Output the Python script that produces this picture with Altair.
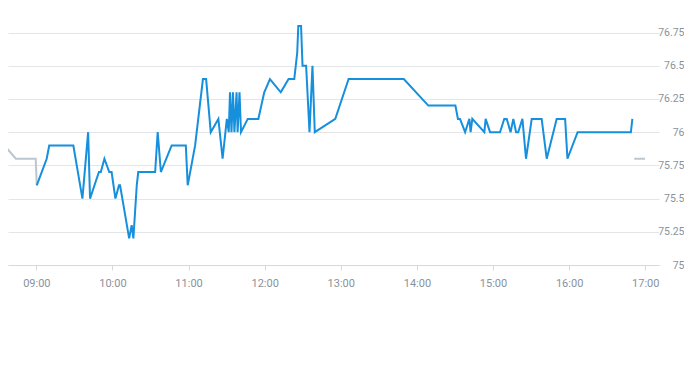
import altair as alt
import pandas as pd

DAY = "2024-01-02T"

pre_times = ["08:30:00", "08:34:50", "08:43:50", "08:59:30", "09:00:20"]
pre_values = [75.5, 75.9, 75.8, 75.8, 75.6]

main_times = [
    "09:00:20", "09:08:10", "09:10:10", "09:29:10", "09:36:20", "09:40:50", "09:42:20",
    "09:49:20", "09:50:50", "09:53:40", "09:57:30", "09:59:20", "10:02:20", "10:05:10",
    "10:06:00", "10:13:10", "10:15:10", "10:16:30", "10:19:10", "10:20:20", "10:33:40",
    "10:35:40", "10:38:10", "10:46:40", "10:57:50", "10:59:20", "11:05:10", "11:11:20",
    "11:13:50", "11:17:30", "11:23:30", "11:26:50", "11:30:10", "11:31:40", "11:32:40",
    "11:33:50", "11:35:00", "11:36:10", "11:37:50", "11:38:40", "11:40:10", "11:41:20",
    "11:46:40", "11:55:00", "11:59:40", "12:04:10", "12:12:40", "12:18:50", "12:23:20",
    "12:25:40", "12:26:30", "12:28:40", "12:29:50", "12:32:40", "12:35:20", "12:37:40",
    "12:39:30", "12:55:40", "13:06:10", "13:49:40", "14:09:00", "14:30:20", "14:32:20",
    "14:34:00", "14:38:00", "14:41:20", "14:42:20", "14:43:40", "14:53:10", "14:54:10",
    "14:57:40", "15:05:30", "15:08:50", "15:10:50", "15:13:50", "15:16:00", "15:18:10",
    "15:19:50", "15:23:10", "15:26:00", "15:30:30", "15:38:20", "15:42:20", "15:50:10",
    "15:56:50", "15:58:40", "16:06:40", "16:48:40", "16:49:50",
]
main_values = [
    75.6, 75.8, 75.9, 75.9, 75.5, 76.0, 75.5,
    75.7, 75.7, 75.8, 75.7, 75.7, 75.5, 75.6,
    75.6, 75.2, 75.3, 75.2, 75.6, 75.7, 75.7,
    76.0, 75.7, 75.9, 75.9, 75.6, 75.9, 76.4,
    76.4, 76.0, 76.1, 75.8, 76.1, 76.0, 76.3,
    76.0, 76.3, 76.0, 76.3, 76.0, 76.3, 76.0,
    76.1, 76.1, 76.3, 76.4, 76.3, 76.4, 76.4,
    76.6, 76.8, 76.8, 76.5, 76.5, 76.0, 76.5,
    76.0, 76.1, 76.4, 76.4, 76.2, 76.2, 76.1,
    76.1, 76.0, 76.1, 76.0, 76.1, 76.0, 76.1,
    76.0, 76.0, 76.1, 76.1, 76.0, 76.1, 76.0,
    76.0, 76.1, 75.8, 76.1, 76.1, 75.8, 76.1,
    76.1, 75.8, 76.0, 76.0, 76.1,
]

post_times = ["16:51:20", "16:59:50"]
post_values = [75.8, 75.8]

y_ticks = [75, 75.25, 75.5, 75.75, 76, 76.25, 76.5, 76.75]
x_ticks = ["09:00", "10:00", "11:00", "12:00", "13:00", "14:00", "15:00", "16:00", "17:00"]

rows = []
for seg, ts, vs in [("pre", pre_times, pre_values),
                    ("main", main_times, main_values),
                    ("post", post_times, post_values)]:
    for t, v in zip(ts, vs):
        rows.append({"series": seg, "time": DAY + t, "price": v})
df = pd.DataFrame(rows)

x_vals = [alt.DateTime(year=2024, month=1, date=2, hours=int(h[:2]), minutes=0) for h in x_ticks]

chart = alt.Chart(df).mark_line(strokeWidth=2, clip=True, interpolate="linear").encode(
    x=alt.X("time:T",
            scale=alt.Scale(domain=[DAY + "08:37:40", DAY + "17:10:50"], nice=False),
            axis=alt.Axis(title=None, format="%H:%M", values=x_vals, grid=False,
                          domainColor="#d5d8dc", tickColor="#d5d8dc", tickSize=5,
                          labelPadding=7, labelColor="#8a929b", labelFontSize=11,
                          labelFont="Roboto")),
    y=alt.Y("price:Q",
            scale=alt.Scale(domain=[75, 76.935], nice=False, zero=False),
            axis=alt.Axis(title=None, orient="right", values=y_ticks, format=".4~g",
                          grid=True, gridColor="#e3e5e8", domain=False, ticks=False,
                          tickSize=0, labelAlign="right", labelPadding=25,
                          labelColor="#8a929b", labelFontSize=10.5, labelFont="Roboto")),
    color=alt.Color("series:N",
                    scale=alt.Scale(domain=["pre", "main", "post"],
                                    range=["#bcc6cf", "#168fdd", "#bcc6cf"]),
                    legend=None),
    detail="series:N",
).properties(
    width=651,
    height=257,
    padding={"left": 0, "top": 0, "right": 0, "bottom": 0},
    background="white",
).configure_view(stroke=None)

chart.save("out.html", embed_options={"renderer": "svg", "actions": False})
